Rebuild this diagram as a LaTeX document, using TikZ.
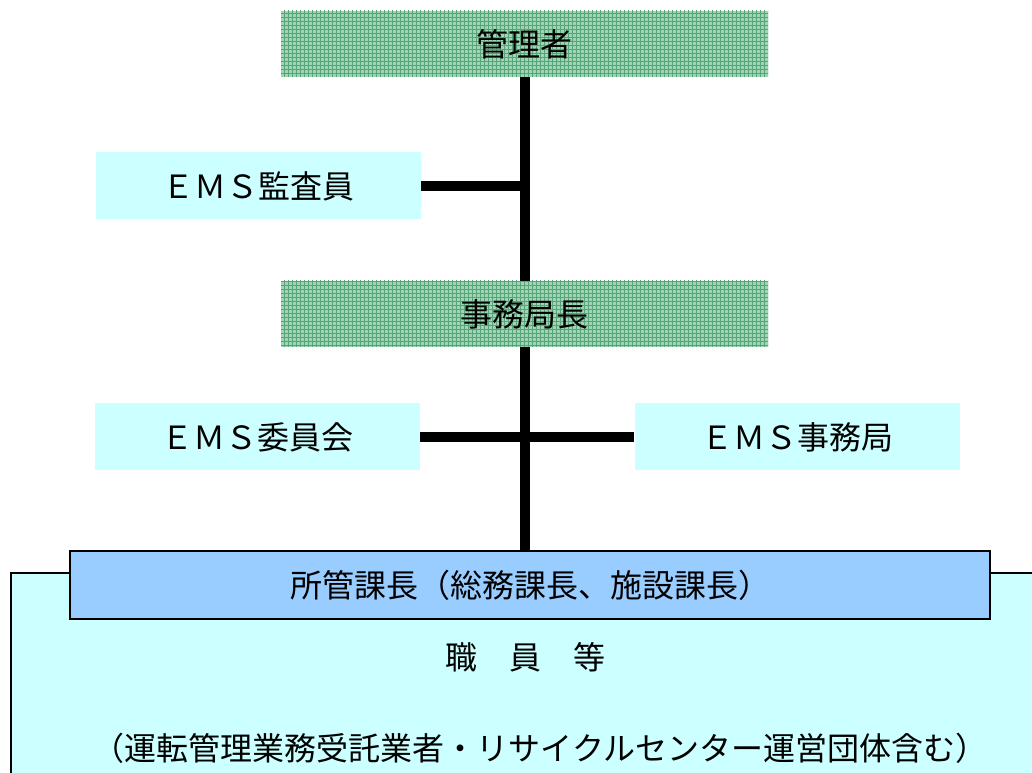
\documentclass[tikz,border=0pt]{standalone}
\usepackage{fontspec}
\setmainfont{Noto Sans CJK JP}
\usetikzlibrary{patterns,positioning}
\definecolor{EMSgreen}{RGB}{160,212,180}
\definecolor{EMSgrid}{RGB}{85,165,120}
\definecolor{EMScyan}{RGB}{204,255,255}
\definecolor{EMSblue}{RGB}{153,204,255}

\begin{document}
\begin{tikzpicture}[x=0.75pt,y=-0.75pt,font=\fontsize{24pt}{29pt}\selectfont,
  head/.style={draw=none,preaction={fill=EMSgreen},pattern=grid,pattern color=EMSgrid,
    minimum width=487*0.75pt,minimum height=66*0.75pt,inner sep=0pt},
  side/.style={draw=none,fill=EMScyan,minimum width=325*0.75pt,minimum height=67*0.75pt,inner sep=0pt},
  link/.style={line width=7.5pt}]
\useasboundingbox (0,0) rectangle (1032,773);

% staff area
\filldraw[fill=EMScyan,line width=1.2pt] (11,573) rectangle (1060,800);

\node[head] (kanri) at (524.5,44) {管理者};
\node[side] (kansa) at (258.5,186) {ＥＭＳ監査員};
\node[head] (jimu) at (524.5,314) {事務局長};
\node[side] (iin) at (257,437) {ＥＭＳ委員会};
\node[side] (kyoku) at (797,437) {ＥＭＳ事務局};
\node[draw,fill=EMSblue,line width=1.5pt,minimum width=920*0.75pt,minimum height=68*0.75pt,inner sep=0pt]
  (shokan) at (530,585) {所管課長（総務課長、施設課長）};
\node[draw=none] (shoku) at (525,657) {職　員　等};
\node[draw=none] (itaku) at (540,748) {（運転管理業務受託業者・リサイクルセンター運営団体含む）};

\draw[link] (kanri.south) -- (jimu.north);
\draw[link] (kansa.east) -- (kansa.east -| kanri.south);
\draw[link] (jimu.south) -- (jimu.south |- shokan.north);
\draw[link] (iin.east) -- (kyoku.west);
\end{tikzpicture}
\end{document}
